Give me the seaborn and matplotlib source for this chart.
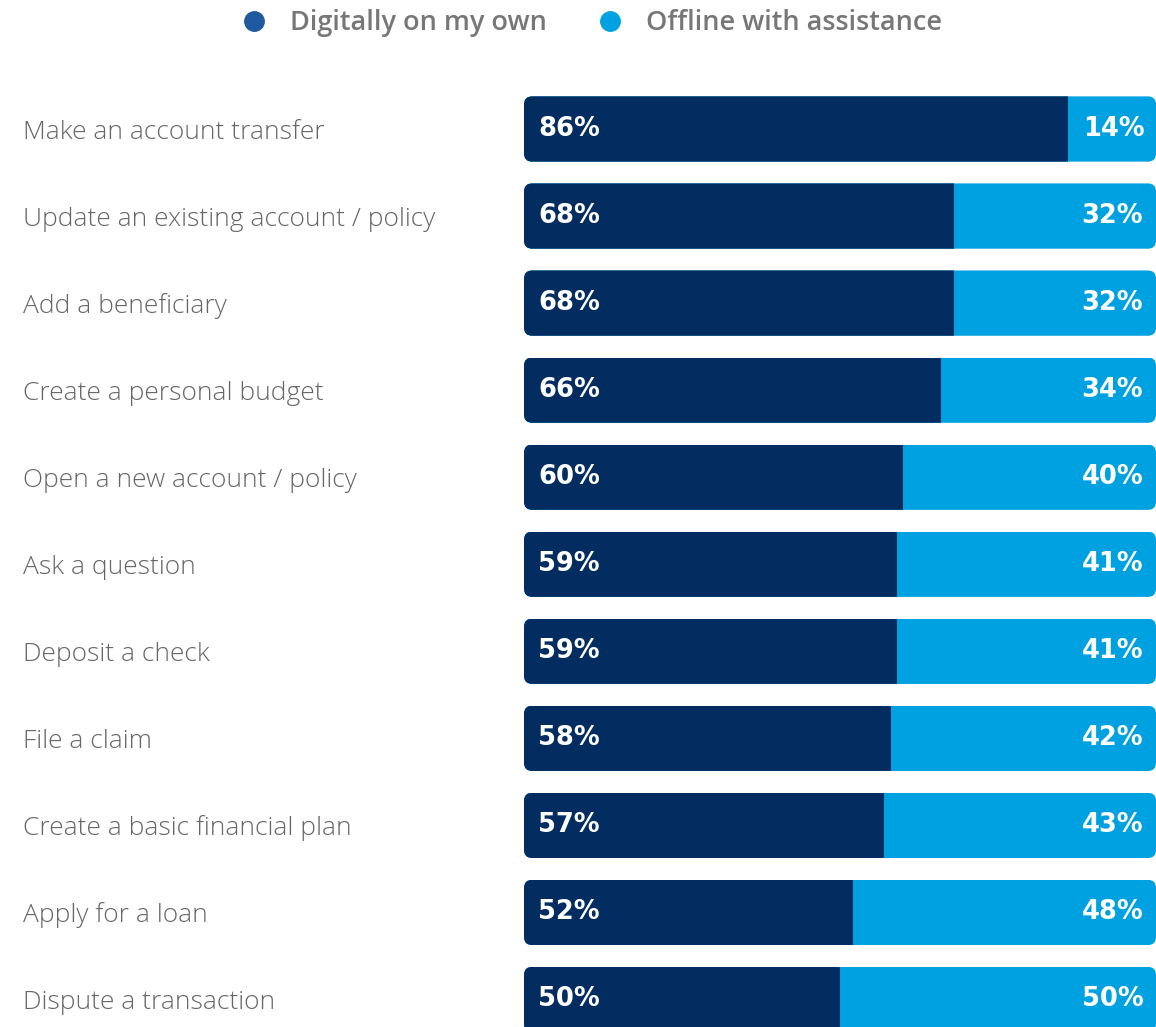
import numpy as np
import pandas as pd
import matplotlib
matplotlib.use("Agg")
import matplotlib.pyplot as plt
from matplotlib.patches import FancyBboxPatch
from matplotlib.lines import Line2D
import seaborn as sns

tasks = ['Make an account transfer', 'Update an existing account / policy', 'Add a beneficiary',
         'Create a personal budget', 'Open a new account / policy', 'Ask a question',
         'Deposit a check', 'File a claim', 'Create a basic financial plan',
         'Apply for a loan', 'Dispute a transaction']
digital = [86, 68, 68, 66, 60, 59, 59, 58, 57, 52, 50]
offline = [14, 32, 32, 34, 40, 41, 41, 42, 43, 48, 50]
series = ['Digitally on my own', 'Offline with assistance']

dark = '#032d60'
light = '#00a1e0'
dot_dark = '#1f5aa0'

df = pd.DataFrame({'task': tasks, 'digital': digital, 'offline': offline})
df['total'] = df['digital'] + df['offline']

sns.set_style('white')
plt.rcParams['font.family'] = ['Open Sans', 'DejaVu Sans']

fig = plt.figure(figsize=(11.56, 10.27), dpi=100)
ax = fig.add_axes([524/1156, 0, 632/1156, 1])

bh = 0.75
sns.barplot(data=df, y='task', x='total', color=light, saturation=1, width=bh, ax=ax)
sns.barplot(data=df, y='task', x='digital', color=dark, saturation=1, width=bh, ax=ax)

ax.set_xlim(0, 100)
ax.set_ylim(10.316, -1.482)

# rounded outer corners: clip each row to a rounded box
r = 1.3
for patch in ax.patches:
    patch.set_linewidth(0)
    clip = FancyBboxPatch((0, patch.get_y()), 100, patch.get_height(),
                          boxstyle=f"round,pad=0,rounding_size={r}",
                          mutation_aspect=0.072, transform=ax.transData)
    patch.set_clip_path(clip)

pct_font = dict(color='white', fontsize=18.5, fontweight='bold', family='DejaVu Sans', va='center')
for i, (d, o) in enumerate(zip(digital, offline)):
    ax.text(2.2, i, f"{d}%", ha='left', **pct_font)
    if o < 20:
        ax.text(d + 2.4, i, f"{o}%", ha='left', **pct_font)
    else:
        ax.text(98, i, f"{o}%", ha='right', **pct_font)

ax.set_yticks(range(len(tasks)))
ax.set_yticklabels(tasks, fontsize=19, color='#666666', fontweight='light')
ax.tick_params(axis='y', length=0, pad=(524 - 23) * 0.72)
for lab in ax.get_yticklabels():
    lab.set_horizontalalignment('left')
ax.set_xticks([])
ax.set_xlabel('')
ax.set_ylabel('')
sns.despine(ax=ax, left=True, bottom=True)

handles = [Line2D([], [], marker='o', linestyle='', markersize=14, color=dot_dark),
           Line2D([], [], marker='o', linestyle='', markersize=14, color=light)]
fig.legend(handles, series, loc='center left', bbox_to_anchor=(240/1156, 1 - 23/1027), ncol=2,
           frameon=False, labelcolor='#777777', handlelength=1.0, handletextpad=0.83,
           columnspacing=1.84, borderpad=0, borderaxespad=0,
           prop={'weight': 'semibold', 'size': 19.5})

fig.savefig('out.png', dpi=100)
